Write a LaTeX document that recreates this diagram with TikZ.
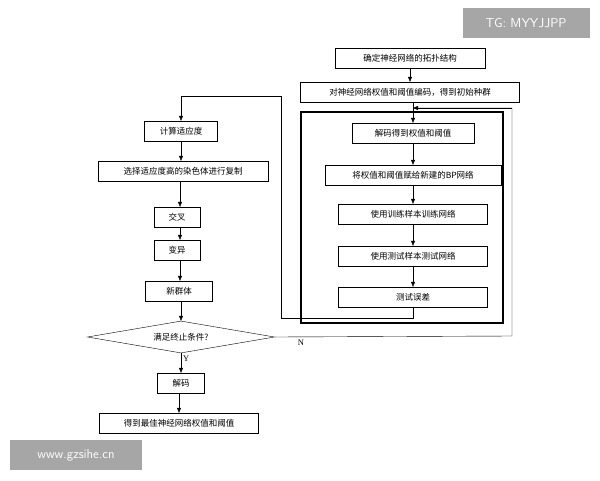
\documentclass[tikz,border=0pt]{standalone}
\usepackage{fontspec}
\newfontfamily\cjk{Noto Sans CJK SC}
\setmainfont{Liberation Serif}
\usetikzlibrary{shapes.geometric,arrows.meta}
\begin{document}
\begin{tikzpicture}[x=1pt,y=-1pt,
  box/.style={draw,thin,minimum height=20pt,inner sep=1pt,font=\cjk\fontsize{8.5}{10}\selectfont},
  arr/.style={-{Triangle[length=5pt,width=4pt]},thin},
  ln/.style={thin}]
\useasboundingbox (0,0) rectangle (600,480);
\fill[white] (0,0) rectangle (600,480);
\node[box,minimum width=150pt] (t) at (410,58) {确定神经网络的拓扑结构};
\node[box,minimum width=219pt] (e) at (410,92) {对神经网络权值和阈值编码，得到初始种群};
\draw[line width=2.4pt] (301,112) rectangle (503,323);
\node[box,minimum width=122pt] (d1) at (413,133) {解码得到权值和阈值};
\node[box,minimum width=176pt] (d2) at (413,175) {将权值和阈值赋给新建的BP网络};
\node[box,minimum width=149pt] (d3) at (413,214) {使用训练样本训练网络};
\node[box,minimum width=149pt] (d4) at (413,256) {使用测试样本测试网络};
\node[box,minimum width=149pt] (d5) at (413,297) {测试误差};
\node[box,minimum width=73pt] (l1) at (181,131) {计算适应度};
\node[box,minimum width=170pt] (l2) at (183,171) {选择适应度高的染色体进行复制};
\node[box,minimum width=46pt] (l3) at (177,217) {交叉};
\node[box,minimum width=46pt] (l4) at (177,250) {变异};
\node[box,minimum width=67pt] (l5) at (179,291) {新群体};
\node[draw,thin,diamond,aspect=5.8,minimum width=187pt,minimum height=32pt,inner sep=0pt,font=\cjk\fontsize{8.5}{10}\selectfont] (dm) at (181,337) {满足终止条件?};
\node[box,minimum width=47pt] (l6) at (181,383) {解码};
\node[box,minimum width=159pt] (l7) at (179,423) {得到最佳神经网络权值和阈值};
\coordinate (fa) at (413,108);
\coordinate (fb) at (512,108);
\coordinate (fc) at (512,336);
\draw[arr] (t.south -| 410,0) -- (e.north -| 410,0);
\draw[arr] (e.south -| d1) -- (d1.north);
\draw[arr] (d1) -- (d2);
\draw[arr] (d2) -- (d3);
\draw[arr] (d3) -- (d4);
\draw[arr] (d4) -- (d5);
\draw[ln] (dm.east) -- (fc) -- (fb) -- (fa);
\draw[arr] (fb) -- (fa);
\draw[arr] (d5.south) -- ++(0,11) -| (281,96) -| (l1.north);
\draw[arr] (l1.south -| 181,0) -- (l2.north -| 181,0);
\draw[arr] (l2.south -| 180,0) -- (l3.north -| 180,0);
\draw[arr] (l3.south -| 180,0) -- (l4.north -| 180,0);
\draw[arr] (l4.south -| 180,0) -- (l5.north -| 180,0);
\draw[arr] (l5.south -| 181,0) -- (dm.north);
\draw[arr] (dm.south) -- node[right,font=\fontsize{8.5}{10}\selectfont,inner sep=2pt,pos=0.3]{Y} (l6.north);
\draw[arr] (l6.south -| 179,0) -- (l7.north);
\node[font=\fontsize{8.5}{10}\selectfont] (n) at (301,343) {N};
\node[fill=black!35,text=white,minimum width=127pt,minimum height=30pt,font=\sffamily\fontsize{13}{15}\selectfont] (w1) at (526,23) {TG: MYYJJPP};
\node[fill=black!35,text=white,minimum width=132pt,minimum height=30pt,font=\sffamily\fontsize{13}{15}\selectfont] (w2) at (76,455) {www.gzsihe.cn};
\end{tikzpicture}
\end{document}
